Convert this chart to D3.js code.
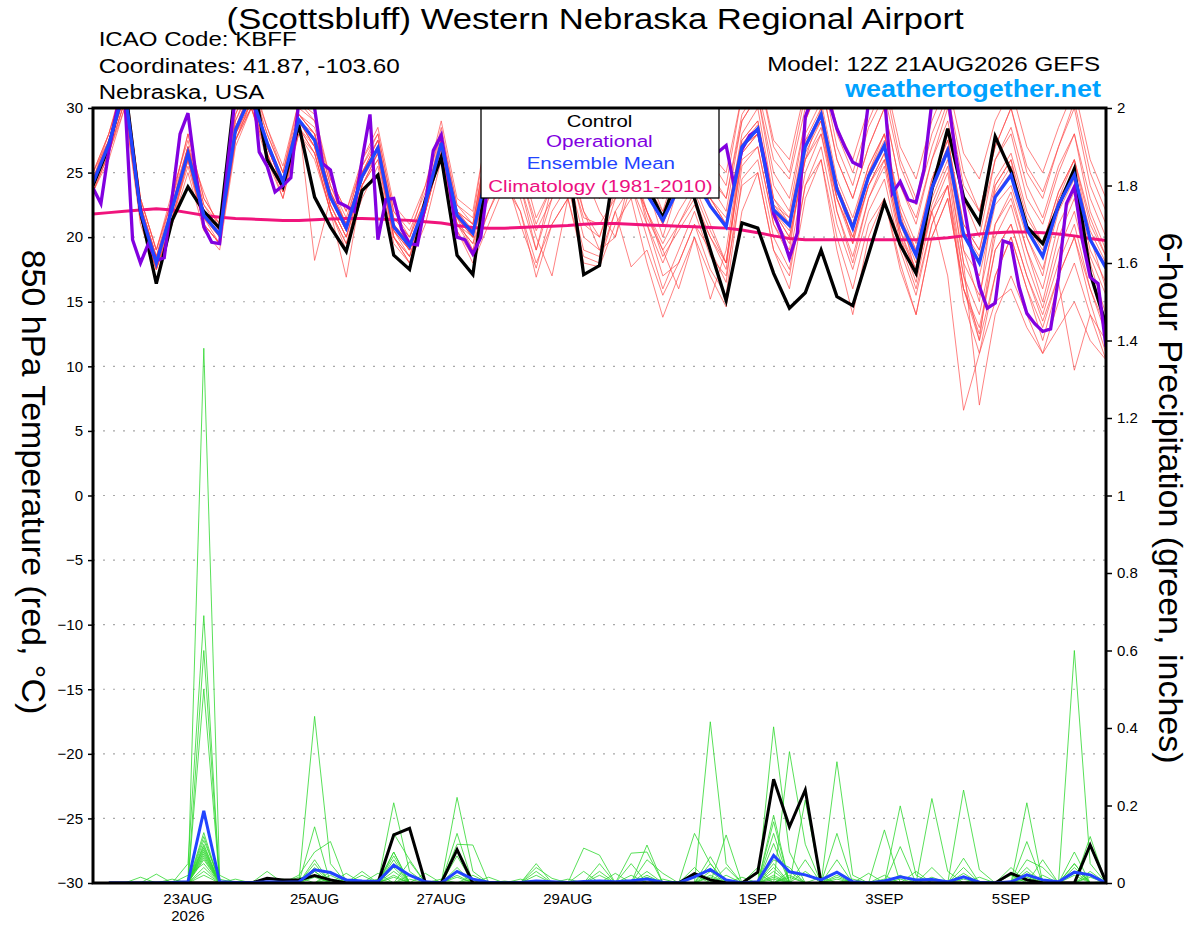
<!DOCTYPE html>
<html><head><meta charset="utf-8">
<script src="https://cdn.jsdelivr.net/npm/d3@7"></script>
<style>
html,body{margin:0;padding:0;background:#fff;}
svg{display:block;font-family:"Liberation Sans",Arial,Helvetica,sans-serif;}
</style></head>
<body>
<svg id="chart" width="1200" height="927"></svg>
<script>
// ---------------- DATA ----------------
const runStartUTC = Date.UTC(2026, 7, 21, 12); // 12Z 21AUG2026, 6-hourly steps
const tempTicks = [-30,-25,-20,-15,-10,-5,0,5,10,15,20,25,30];
const tempGrid = [-25,-20,-15,-10,-5,0,5,10,15,20,25];
const precipTicks = [0,0.2,0.4,0.6,0.8,1,1.2,1.4,1.6,1.8,2];
const dateTickDays = ["2026-08-23","2026-08-25","2026-08-27","2026-08-29","2026-09-01","2026-09-03","2026-09-05"];
const dateTickLabels = ["23AUG","25AUG","27AUG","29AUG","1SEP","3SEP","5SEP"];
const legendLabels = ["Control","Operational","Ensemble Mean","Climatology (1981-2010)"];

const controlTemp = [
 24.0,27.0,32.0,22.0,16.4,21.3,23.9,22.0,20.7,31.5,
 33.0,26.0,23.9,28.7,23.1,20.8,18.9,23.6,24.8,18.6,
 17.5,22.9,26.2,18.6,17.1,26.0,29.0,28.0,25.5,27.5,
 26.0,17.1,17.8,26.0,27.5,24.0,21.5,25.0,23.0,19.0,
 15.1,21.1,20.7,17.2,14.5,15.7,19.0,15.4,14.7,18.7,
 22.7,19.4,17.2,23.7,28.4,23.1,21.1,27.8,25.1,20.8,
 19.5,22.4,25.3,17.2,13.2];

const meanTemp = [
 24.2,27.2,31.5,22.0,18.0,22.2,26.5,21.7,20.2,28.3,
 31.0,27.3,24.3,29.1,27.5,23.1,20.7,24.7,26.9,20.8,
 19.3,22.6,27.3,21.7,20.3,25.5,27.0,26.0,23.5,25.0,
 26.0,23.5,23.2,25.0,26.0,23.3,21.3,23.8,24.5,22.4,
 20.8,27.0,28.4,22.1,20.9,27.0,29.5,23.7,20.7,24.7,
 27.1,21.2,18.6,23.8,26.7,20.2,18.0,23.1,24.8,20.6,
 18.5,22.5,24.8,19.8,17.6];

// operational run is 3-hourly (129 values)
const operationalTemp = [
 23.8,22.6,26.7,29.8,31,19.8,18.0,19.5,18.2,18.4,
 23.1,28.0,29.6,24.9,20.8,19.6,19.5,25.5,31,32,
 33,26.6,25.5,23.5,24.0,24.6,30.5,31,30.0,25.7,
 25.2,22.7,22.4,22.0,26.0,29.5,19.8,22.9,23.0,20.6,
 19.5,19.4,22.6,26.7,27.9,24.2,20.0,19.8,18.7,20.0,
 24.5,27,29,31,30,27,25,24,26,29,
 31,30,28,26,25,27,30,32,31,28,
 26,25,24,27,30,31,29,27.5,26,26.6,
 27.1,24.0,26.8,27.9,28.3,25.5,21.8,20.3,18.4,20.3,
 29.3,31,32,30.5,28.4,27.0,25.8,25.5,30.5,31,
 31,23.4,24.3,22.9,22.7,25.2,30.5,31,31,26.4,
 22.6,19.0,16.2,14.5,14.9,19.7,19.5,16.2,14.1,13.3,
 12.7,12.9,16.9,22.6,23.9,19.8,16.9,16.4,11.5];

const climatologyTemp = [
 21.8,21.9,22.0,22.1,22.2,22.1,21.9,21.7,21.55,21.45,
 21.4,21.35,21.3,21.3,21.35,21.4,21.45,21.45,21.4,21.35,
 21.3,21.2,21.1,20.9,20.75,20.7,20.7,20.75,20.8,20.85,
 20.9,21.0,21.05,21.05,21.0,20.95,20.9,20.85,20.8,20.75,
 20.7,20.55,20.35,20.1,19.9,19.8,19.8,19.8,19.8,19.8,
 19.8,19.8,19.8,19.85,19.95,20.1,20.25,20.35,20.4,20.4,
 20.35,20.25,20.1,19.9,19.75];

const memberTemps = [
 [25,28,32,23,19,23,28,23,21,29, 32,28,25,30,29,24,21,26,28,22, 20,24,28,22,21,28,31,30,27,28, 30,26,24,28,30,25,22,26,28,24, 22,29,31,24,22,29,32,26,23,27, 30,24,21,26,30,23,20,26,28,23, 21,25,28,22,19],
 [23.5,26,30,21,17.5,21,25,20.5,19,27, 30,26,23,28,26,22,19.5,23,25.5,19.5, 18,21,26,20.5,18.5,22,25,21,17.6,22, 24,19,18.5,22,24,20,16,19,22,18.5, 17,24,25,19,17,24,26,20,16,21, 23,17.5,14,20,23,16,13,19,21,17, 14,18,21,16,13],
 [24.5,27.5,31,22.5,18,22.5,27,23.5,20.5,28.5, 31.5,27,24.5,29.5,28,23.5,21,25,27.5,21, 19.5,22,27,21,20,27.5,30,28.5,24,26, 29,25,23.5,27,29,24,20,24,27,23, 21,28,30,23,21,26,30,24,19.5,25, 28,22,17,24,28,19,15,24,26,20, 17,23,26,20,16],
 [24,27,31.5,21.5,17.5,22,26,21,19.5,27.5, 30.5,27.5,23.5,28.5,27,22.5,20,24,26.5,20, 18.5,23,27.5,21.5,19,24,27,23,19,24, 26,21,20,24,26,21,18,21,23,20, 18,26,27,21,19,27,29,22,18,23, 26,20,16.5,22,25,17,12,21,23,19, 15,20,23,18,14],
 [24.5,28,32.5,23,19,23.5,27.5,22.5,21,29.5, 32.5,28.5,25,30.5,29.5,24.5,22,25.5,28,22, 20.5,23.5,28.5,22.5,21.5,29,32,30,27,29, 31,27,25,29,31,26.5,24,27,29,26, 24,31,33,27,25,31,34,28,25,29, 32,26,23,28,31,25,22,27,30,25, 23,27,30,24,21],
 [23.5,26.5,30.5,22,18.5,21.5,26,21.5,20,28, 30,27,24,29,18.2,23,20.5,24.5,27,20.5, 19,22.5,27,21.5,20.5,23,26,24,20,17, 23,25,22,20,25,22,19,16,20,15.2, 19,27,28,22,20,26,28,23,20,24, 26,20,17.5,22,17,6.6,11,15,16,13, 11,13,15,12,10.5],
 [24,27,31,22,18,22,26.5,22,20,28, 31,27,24,29,27.5,23,20.5,25,27,21, 19,22.5,27.5,22,20,27,29.5,28,25,27, 28,24,23,26.5,28,23.5,21,24,25.5,22.5, 21,27,28.5,22,21,27,29.5,24,21,24.5, 27,21,18.5,23,26,18,7,14,17,14, 11,15,18,14,12],
 [25,27.5,31,22,18,22,27,22,20.5,28.5, 31,27.5,24.5,29,28,23.5,21,25,27,21, 19.5,22.5,27,21.5,20,26.5,29,28,25.5,26.5, 28,24.5,23.5,26,28,24,21.5,24.5,26,23, 21,27,28,22.5,21,27.5,29,24,21,25, 27.5,21.5,19,24,27,20.5,18.5,23.5,25.5,21, 19,23,25,20.5,18],
 [23.5,26.5,30,21.5,17.5,21,26,21,19.5,27.5, 30.5,26.5,23.5,28,26.5,22,19,24,26.5,20, 18,22,26.5,20.5,18,21,24,22,16.9,21, 23,18,17.7,21,23,18,13.8,17,20,17, 14.6,22,25,19,16,23,26,19,14,20, 23,18,14,20,23,16,12.5,19,21,17, 13.5,17,20,15,11],
 [24.5,27,31.5,22.5,18.5,23,27,22,20.5,29, 31.5,28,25,29.5,28.5,24,21.5,25.5,27.5,21.5, 20,23,28,22.5,21,28,30.5,29.5,26.5,28, 29.5,26,25,28,30,25.5,23,26,28,25, 23,29,31,25,23,29,32,26,23,27, 30,24,21.5,26,29,23,21,26,28.5,24, 21.5,25.5,28,23,20],
 [24,27,31,21.5,17.8,22,26.5,21.5,19.5,28, 30.5,27,24,29,27,22.5,20,24.5,27,20.5, 18.5,22,27,21,19.5,25,28,25,21,24, 27,22,19,23,26,22,19.5,22,24,21, 18,27,28.5,22,20.5,27,29.5,23.5,20.5,24.5, 27,21,18,23.5,26.5,19,17,22.5,24,20, 17.5,22,24.5,19,16.5],
 [24.5,27.5,31.5,22,18,22.5,26.5,22,20,28, 31,27,24.5,29,27.5,23,20.5,25,27,21, 19,23,27.5,22,20.5,27.5,29.5,28,25.5,27.5, 28.5,24.5,23.5,27,28.5,24,22,24.5,26,23, 21.5,27.5,29,22.5,21.5,27.5,30,24,21,25.5, 28,22,19,24.5,27.5,21,19,24,26,21.5, 19.5,23.5,26,21,18.5],
 [24,27,31,22.5,18.5,22,27,22,20,28.5, 31,27,24,29.5,28,23.5,21,25,27.5,21.5, 20,23,27.5,22,21,27.5,30,29,26,28, 29,25.5,24.5,27.5,29.5,25,23,26,28,24.5, 23,29.5,31.5,26,24.5,30,33,27,24,28.5, 31,25.5,22.5,27,30.5,24,22,27,30,25.5, 23.5,27,30.5,25,22],
 [23.8,26.8,30.5,21.5,17.5,21.5,26,21,19.5,27.5, 30,26.5,23.5,28.5,26.5,22,16.9,24,26,20, 18.5,22,26.5,21,19.5,23,26,24,19,23, 25,20,19,20,24,21,17,18,21,19, 16.5,25.5,27,21,18.5,25,28,22,18.5,23, 25.5,19.5,16,21,24,15,11,17,20,16, 13,17,20,16,12.5],
 [24.5,27.5,32,22.5,18.5,22.5,27,22.5,20.5,28.5, 31.5,27.5,24.5,29.5,28,23.5,21,25,27,21, 19.5,23,27.5,22,20.5,27,29.5,28,25,27, 28.5,24,23,26.5,28,23.5,21,24.5,26,22.5, 21,27.5,29,23,21.5,28,30.5,24.5,21.5,25.5, 28,22.5,19.5,24.5,27.5,21,19,24.5,26.5,22, 19.5,23.5,26,21.5,18.5],
 [24,27,31,22,18,22,26.5,21.5,20,28, 31,27,24,29,27,23,20.5,24.5,27,20.5, 19,22.5,27,21.5,20,24.5,27,25,20.5,23, 25.5,21.5,21,23,25,22,18.5,20.5,22.5,20, 17.5,26.5,28,21.5,19.5,26.5,29,23,19.5,24, 26.5,20.5,17,22.5,25.5,18,15.5,21,23.5,19, 16,21,23.5,18.5,15.5],
 [25,28,32,23,19,23,28,23,21,29.5, 32,28.5,25.5,30.5,29,24.5,22,26,28.5,22.5, 21,24,29,23,22,29,31.5,30.5,28,29.5, 30.5,27,26,29,31,27,24.5,27.5,29.5,26.5, 25,31,33,27.5,26,31.5,34,28.5,26,30, 32.5,27,24.5,29,32,26.5,24.5,29,31.5,27, 25,28.5,31.5,26,23],
 [23.5,26.5,30.5,21.5,17.5,21.5,25.5,21,19.5,27.5, 30,26.5,23,28.5,26.5,22,19.5,24,26,20, 18,22,26.5,21,19,22,24.5,22,18,21, 23,18.5,18,22,17.7,19,15.5,18,21,17.5, 15.5,24.5,26,20,17.5,24,27,21,17.5,22, 24.5,19,15.5,21,24,17,14,20,22.5,18, 14.5,19,22,17,13.5],
 [24.2,27.3,31.2,22.3,18.2,22.3,26.8,21.8,20.3,28.3, 31,27.3,24.3,29.2,27.6,23.2,20.8,24.8,27.1,20.9, 19.4,22.7,27.4,21.8,20.4,27.2,29.6,28.2,25.2,27.2, 28.2,24.2,23.3,26.7,28.2,23.6,21.3,24.2,25.6,22.6, 20.9,27.2,28.7,22.3,21.1,27.2,29.7,23.9,20.9,24.9, 27.3,21.4,18.8,24,27,20.4,18.2,23.3,25,20.8, 18.7,22.7,25,20,17.8],
 [24,27,31,22,18,22.5,26.5,22,20,28, 30.5,27,24,29,27,22.5,20,24.5,26.5,20.5, 19,22.5,27,21.5,20,25,28,26,21.5,24, 26,22,20,23.5,25.5,21.5,19,21,23.5,20.5, 18,26.5,28,22,20,26,28.5,23,20,24, 26.5,20.5,17.5,22,24,16,12,17,20,16, 12,16.5,9.7,14,10.5]
];

const controlPrecip = [
 null,0,0,0,0,0,0,0,0,0,
 0,0.012,0.008,0.008,0.019,0.008,0,0,0,0.124,
 0.141,0,0,0.086,0,0,0,0,0,0,
 0,0,0,0,0,0,0,0,0.024,0.008,
 0,0,0.028,0.268,0.145,0.24,0,0,0,0,
 0,0,0,0,0,0,0,0,0.025,0.008,
 0,0,0,0.098,0.003];

const meanPrecip = [
 null,0,0,0,0,0.001,0.003,0.186,0.003,0.001,
 0.001,0.003,0.002,0.003,0.034,0.027,0.008,0.005,0.004,0.046,
 0.02,0.003,0,0.03,0.01,0.002,0,0.001,0.005,0.003,
 0.001,0.004,0.005,0.003,0.006,0.01,0.002,0,0.016,0.035,
 0.008,0,0.003,0.071,0.029,0.021,0.008,0.028,0.003,0,
 0.005,0.016,0.008,0.009,0.003,0.016,0.002,0,0.003,0.021,
 0.008,0.003,0.028,0.021,0];

// member precipitation: [step index, inches] for every non-zero 6-h amount (all other steps are 0)
const memberPrecipNonZero = [
 [[7,1.38],[8,0.02],[14,0.43],[15,0.05],[19,0.08],[39,0.416],[40,0.05],[62,0.60],[63,0.05]],
 [[6,0.05],[7,0.69],[14,0.145],[19,0.207],[20,0.03],[43,0.403],[44,0.08],[59,0.107]],
 [[7,0.60],[13,0.02],[14,0.08],[15,0.107],[23,0.221],[24,0.03],[44,0.339],[45,0.1],[62,0.05]],
 [[7,0.50],[19,0.128],[20,0.06],[23,0.128],[43,0.175],[47,0.313],[48,0.02],[63,0.12]],
 [[4,0.023],[7,0.13],[14,0.06],[23,0.10],[24,0.098],[38,0.128],[39,0.05],[43,0.158],[51,0.199],[52,0.02],[59,0.207]],
 [[3,0.015],[7,0.10],[11,0.03],[19,0.08],[28,0.05],[35,0.098],[43,0.128],[47,0.128],[53,0.218],[54,0.03],[63,0.094]],
 [[7,0.09],[14,0.03],[17,0.03],[19,0.07],[31,0.09],[32,0.072],[40,0.124],[43,0.102],[55,0.24],[56,0.034]],
 [[7,0.08],[16,0.025],[19,0.06],[23,0.07],[34,0.077],[35,0.08],[43,0.05],[45,0.214],[50,0.137],[58,0.04],[60,0.06]],
 [[5,0.01],[7,0.07],[15,0.02],[18,0.025],[20,0.055],[28,0.04],[29,0.012],[35,0.06],[36,0.025],[39,0.068],[42,0.04],[47,0.06],[51,0.094],[55,0.064],[62,0.08]],
 [[7,0.06],[12,0.01],[19,0.05],[21,0.025],[23,0.04],[27,0.01],[32,0.05],[34,0.05],[38,0.04],[43,0.06],[44,0.04],[49,0.025],[53,0.04],[59,0.06],[60,0.04]],
 [[6,0.02],[7,0.05],[14,0.04],[17,0.02],[20,0.02],[24,0.02],[31,0.03],[33,0.025],[39,0.05],[42,0.025],[45,0.06],[47,0.03],[52,0.03],[55,0.04],[59,0.04],[63,0.03]],
 [[7,0.04],[9,0.01],[15,0.03],[19,0.04],[25,0.015],[28,0.03],[35,0.03],[40,0.04],[43,0.04],[46,0.015],[50,0.02],[55,0.025],[58,0.02],[62,0.03]],
 [[7,0.03],[14,0.02],[16,0.01],[23,0.03],[30,0.01],[32,0.02],[39,0.03],[44,0.03],[47,0.02],[51,0.02],[56,0.015],[59,0.03],[63,0.02]],
 [[7,0.02],[13,0.015],[18,0.01],[22,0.01],[26,0.005],[36,0.01],[38,0.02],[41,0.015],[43,0.03],[48,0.01],[53,0.015],[55,0.015],[60,0.02],[64,0.005]],
 [[7,0.12],[14,0.05],[19,0.03],[39,0.02],[43,0.02],[45,0.03],[59,0.02],[62,0.05]],
 [[7,0.11],[8,0.01],[15,0.01],[24,0.01],[35,0.02],[44,0.02],[51,0.01],[62,0.04]],
 [[7,0.095],[14,0.03],[20,0.01],[23,0.02],[32,0.03],[40,0.02],[47,0.015],[55,0.01],[63,0.015]],
 [[7,0.085],[19,0.02],[28,0.02],[34,0.02],[43,0.015],[50,0.01],[59,0.015]],
 [[7,0.075],[14,0.015],[23,0.015],[39,0.015],[44,0.015],[62,0.02]],
 [[7,0.065],[19,0.015],[35,0.015],[43,0.01],[47,0.01],[59,0.01]]
];
const memberPrecip = memberPrecipNonZero.map(pairs => {
  const s = controlPrecip.map((v, i) => (i === 0 ? null : 0));
  pairs.forEach(([i, v]) => { s[i] = v; });
  return s;
});

// ---------------- CHART ----------------
const svg = d3.select("#chart");
const P = {left: 93, right: 1106, top: 108, bottom: 883};
const HOUR = 3600e3;
const t6 = i => new Date(runStartUTC + i * 6 * HOUR);
const t3 = j => new Date(runStartUTC + j * 3 * HOUR);

const x = d3.scaleUtc().domain([t6(0), t6(controlTemp.length - 1)]).range([P.left, P.right]);
const yT = d3.scaleLinear().domain([-30, 30]).range([P.bottom, P.top]);
const yP = d3.scaleLinear().domain([0, 2]).range([P.bottom, P.top]);

svg.append("rect").attr("width", 1200).attr("height", 927).attr("fill", "#fff");

svg.append("defs").append("clipPath").attr("id", "plotclip")
  .append("rect").attr("x", P.left).attr("y", P.top)
  .attr("width", P.right - P.left).attr("height", P.bottom - P.top);

// dotted grid
svg.append("g").selectAll("line").data(tempGrid).join("line")
  .attr("x1", P.left).attr("x2", P.right)
  .attr("y1", d => yT(d)).attr("y2", d => yT(d))
  .attr("stroke", "#a8a8a8").attr("stroke-width", 1.2).attr("stroke-dasharray", "2,8");

const plot = svg.append("g").attr("clip-path", "url(#plotclip)");
const lineT6 = d3.line().x((d, i) => x(t6(i))).y(d => yT(d));
const lineT3 = d3.line().x((d, j) => x(t3(j))).y(d => yT(d));
const lineP6 = d3.line().defined(d => d != null).x((d, i) => x(t6(i))).y(d => yP(d));

plot.append("g").selectAll("path").data(memberTemps).join("path")
  .attr("d", lineT6).attr("fill", "none").attr("stroke", "#ff4545")
  .attr("stroke-width", 0.8).attr("stroke-opacity", 0.85);

plot.append("g").selectAll("path").data(memberPrecip).join("path")
  .attr("d", lineP6).attr("fill", "none").attr("stroke", "#2ed82e")
  .attr("stroke-width", 0.8);

plot.append("path").datum(climatologyTemp).attr("d", lineT6)
  .attr("fill", "none").attr("stroke", "#f0147c").attr("stroke-width", 3);
plot.append("path").datum(controlTemp).attr("d", lineT6)
  .attr("fill", "none").attr("stroke", "#000").attr("stroke-width", 3.3);
plot.append("path").datum(operationalTemp).attr("d", lineT3)
  .attr("fill", "none").attr("stroke", "#8200e0").attr("stroke-width", 3.3);
plot.append("path").datum(meanTemp).attr("d", lineT6)
  .attr("fill", "none").attr("stroke", "#2244ff").attr("stroke-width", 3.3);
plot.append("path").datum(controlPrecip).attr("d", lineP6)
  .attr("fill", "none").attr("stroke", "#000").attr("stroke-width", 3);
plot.append("path").datum(meanPrecip).attr("d", lineP6)
  .attr("fill", "none").attr("stroke", "#2244ff").attr("stroke-width", 3);

// legend
const legendColors = ["#000000", "#8200e0", "#2244ff", "#ec0f7f"];
const legendBaselines = [127.3, 147.3, 169.3, 192];
const legendX = [566.7, 546, 526.7, 488.3];
const legendLen = [65.6, 106.7, 148.3, 224.4];
svg.append("rect").attr("x", 481).attr("y", P.top).attr("width", 238).attr("height", 90)
  .attr("fill", "#fff").attr("stroke", "#000").attr("stroke-width", 1.3);
svg.append("g").selectAll("text").data(legendLabels).join("text")
  .attr("x", (d, i) => legendX[i]).attr("y", (d, i) => legendBaselines[i])
  .attr("font-size", 17.2).attr("fill", (d, i) => legendColors[i])
  .attr("textLength", (d, i) => legendLen[i]).attr("lengthAdjust", "spacingAndGlyphs")
  .text(d => d);

// frame
svg.append("rect").attr("x", P.left).attr("y", P.top)
  .attr("width", P.right - P.left).attr("height", P.bottom - P.top)
  .attr("fill", "none").attr("stroke", "#000").attr("stroke-width", 3);

// axes
const axL = svg.append("g").attr("transform", `translate(${P.left},0)`)
  .call(d3.axisLeft(yT).tickValues(tempTicks).tickSize(5).tickPadding(5).tickFormat(d3.format("d")));
axL.select(".domain").remove();
axL.selectAll("text").attr("font-size", 15).attr("font-family", "Liberation Sans, Arial, sans-serif").attr("fill", "#000");
axL.selectAll("line").attr("stroke", "#000").attr("stroke-width", 1.5);

const axR = svg.append("g").attr("transform", `translate(${P.right},0)`)
  .call(d3.axisRight(yP).tickValues(precipTicks).tickSize(6).tickPadding(5).tickFormat(d => String(+d.toFixed(1))));
axR.select(".domain").remove();
axR.selectAll("text").attr("font-size", 15).attr("font-family", "Liberation Sans, Arial, sans-serif").attr("fill", "#000");
axR.selectAll("line").attr("stroke", "#000").attr("stroke-width", 1.5);

const dateG = svg.append("g");
dateTickDays.forEach((ds, k) => {
  const d = new Date(ds + "T00:00:00Z");
  dateG.append("text").attr("x", x(d)).attr("y", 904).attr("text-anchor", "middle")
    .attr("font-size", 15).text(dateTickLabels[k]);
});
dateG.append("text").attr("x", x(new Date(dateTickDays[0] + "T00:00:00Z"))).attr("y", 920.5)
  .attr("text-anchor", "middle").attr("font-size", 15).text("2026");

// header texts
const hdr = [
  {t: "(Scottsbluff) Western Nebraska Regional Airport", x: 226.6, y: 29, fs: 29, len: 737},
  {t: "ICAO Code: KBFF", x: 98.7, y: 45.7, fs: 19.5, len: 198},
  {t: "Coordinates: 41.87, -103.60", x: 98.7, y: 73, fs: 19.5, len: 301},
  {t: "Nebraska, USA", x: 98.7, y: 99.3, fs: 19.5, len: 165.5},
  {t: "Model: 12Z 21AUG2026 GEFS", x: 767.2, y: 70.7, fs: 19.5, len: 333}
];
svg.append("g").selectAll("text").data(hdr).join("text")
  .attr("x", d => d.x).attr("y", d => d.y).attr("font-size", d => d.fs)
  .attr("textLength", d => d.len).attr("lengthAdjust", "spacingAndGlyphs")
  .attr("fill", "#000").text(d => d.t);
svg.append("text").attr("x", 845).attr("y", 96.7).attr("font-size", 23).attr("font-weight", "bold")
  .attr("fill", "#00a2ff").attr("textLength", 256).attr("lengthAdjust", "spacingAndGlyphs")
  .text("weathertogether.net");

// axis titles (both rotated clockwise)
svg.append("text").attr("transform", "translate(21.5,482) rotate(90)")
  .attr("text-anchor", "middle").attr("font-size", 34).attr("fill", "#000")
  .text("850 hPa Temperature (red, °C)");
svg.append("text").attr("transform", "translate(1158.5,498) rotate(90)")
  .attr("text-anchor", "middle").attr("font-size", 34).attr("fill", "#000")
  .text("6-hour Precipitation (green, inches)");
</script>
</body></html>
